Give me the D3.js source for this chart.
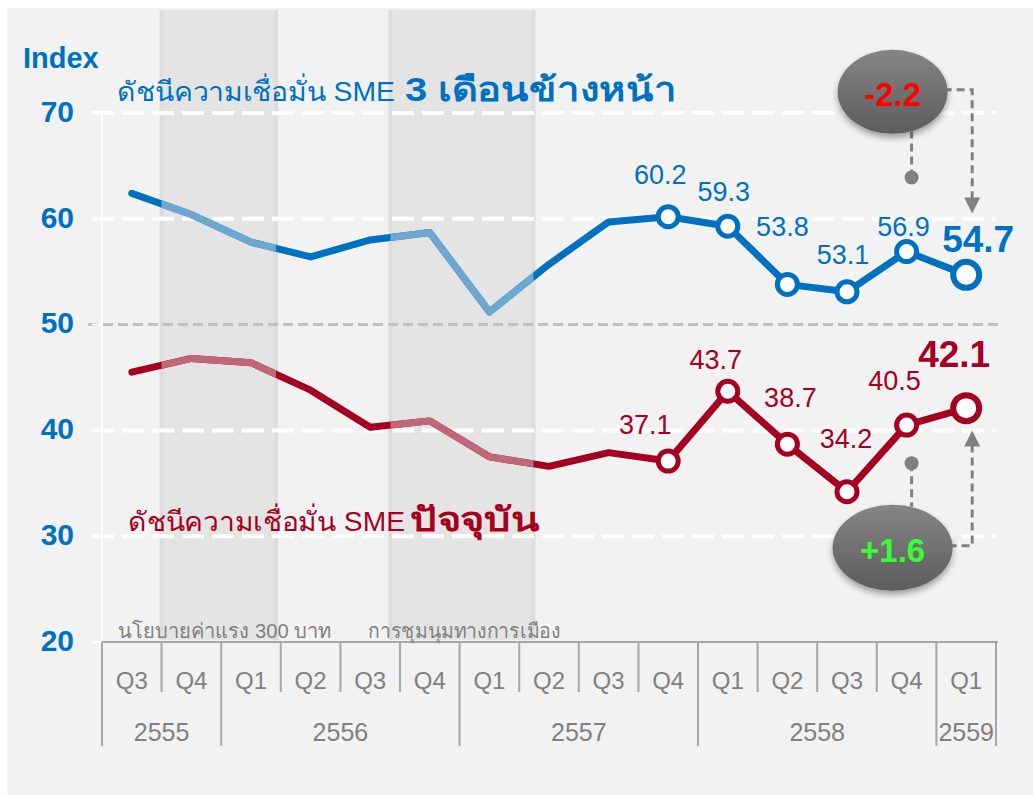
<!DOCTYPE html>
<html>
<head>
<meta charset="utf-8">
<script src="https://cdn.jsdelivr.net/npm/d3@7"></script>
<style>
  body { margin: 0; background: #fff; }
  svg { display: block; }
  text { font-family: "Liberation Sans", Arial, "Noto Sans", sans-serif; }
</style>
</head>
<body>
<div id="chart"></div>
<script>
// data
const quarters = ["Q3", "Q4", "Q1", "Q2", "Q3", "Q4", "Q1", "Q2", "Q3", "Q4", "Q1", "Q2", "Q3", "Q4", "Q1"]
const years = ["2555", "2556", "2557", "2558", "2559"]
const quartersPerYear = [2, 4, 4, 4, 1]
const outlook = [62.4, 60.4, 57.8, 56.4, 58.0, 58.7, 51.2, 55.7, 59.7, 60.2, 59.3, 53.8, 53.1, 56.9, 54.7] // 3 เดือนข้างหน้า
const current = [45.5, 46.8, 46.4, 43.8, 40.3, 40.9, 37.5, 36.6, 37.9, 37.1, 43.7, 38.7, 34.2, 40.5, 42.1] // ปัจจุบัน
const yTicks = [20, 30, 40, 50, 60, 70]
const events = ["นโยบายค่าแรง 300 บาท", "การชุมนุมทางการเมือง"]
const eventFrom = [1.0, 4.84] // in quarter units
const eventTo = [2.92, 7.24]
const firstLabelled = 9
const changeOutlook = "-2.2"
const changeCurrent = "+1.6"

const W = 1033
const H = 795
const blue = "#0070C0"
const red = "#A50021"
const grey = "#808080"

const svg = d3
  .select("#chart")
  .append("svg")
  .attr("width", W)
  .attr("height", H)

const defs = svg.append("defs")

// chart background
svg.append("rect").attr("x", 7).attr("y", 8).attr("width", W - 7).attr("height", H - 8).attr("fill", "#F2F2F2")

// scales
const x = d3.scaleBand().domain(d3.range(quarters.length)).range([102, 996])
const bw = x.bandwidth()
const xc = (i) => x(i) + bw / 2
const xq = (q) => 102 + q * bw // fractional quarter -> px
const y = d3.scaleLinear().domain([20, 70]).range([642, 113])

// shaded periods
const clip = defs.append("clipPath").attr("id", "shade")
events.forEach((name, k) => {
  const x0 = xq(eventFrom[k])
  const x1 = xq(eventTo[k])
  svg.append("rect")
    .attr("x", x0).attr("y", 10).attr("width", x1 - x0).attr("height", 630)
    .attr("fill", "#E4E4E4")
  ;[x0, x1].forEach((xe) => {
    svg.append("rect")
      .attr("x", xe - 2).attr("y", 10).attr("width", 4).attr("height", 630)
      .attr("fill", "#DDDDDD")
  })
  clip.append("rect").attr("x", x0).attr("y", 0).attr("width", x1 - x0).attr("height", H)
})

// grid lines
const g_grid = svg.append("g")
g_grid.selectAll("line")
  .data(yTicks.filter((v) => v !== 20 && v !== 50))
  .join("line")
  .attr("x1", 92).attr("x2", 996)
  .attr("y1", (d) => y(d)).attr("y2", (d) => y(d))
  .attr("stroke", "#fff").attr("stroke-width", 4).attr("stroke-dasharray", "22,8")
g_grid.append("line")
  .attr("x1", 88).attr("x2", 998).attr("y1", y(50)).attr("y2", y(50))
  .attr("stroke", "#C0C0C0").attr("stroke-width", 3).attr("stroke-dasharray", "10,5")

// left axis (white)
svg.append("line").attr("x1", 102).attr("x2", 102).attr("y1", y(70)).attr("y2", y(20))
  .attr("stroke", "#fff").attr("stroke-width", 2)
svg.selectAll(".ytick")
  .data(yTicks)
  .join("line")
  .attr("class", "ytick")
  .attr("x1", 92).attr("x2", 102).attr("y1", (d) => y(d)).attr("y2", (d) => y(d))
  .attr("stroke", "#fff").attr("stroke-width", 2)
svg.selectAll(".ylab")
  .data(yTicks)
  .join("text")
  .attr("class", "ylab")
  .attr("x", 74).attr("y", (d) => y(d) - 2).attr("dy", "0.36em")
  .attr("text-anchor", "end")
  .attr("font-size", 30).attr("font-weight", "bold").attr("fill", blue)
  .text((d) => d)

svg.append("text").attr("x", 23).attr("y", 68)
  .attr("font-size", 29).attr("font-weight", "bold").attr("fill", blue).text("Index")

// series titles
const title = (txt, xPos, yPos, len, size, bold, color) =>
  svg.append("text").attr("x", xPos).attr("y", yPos)
    .attr("font-size", size).attr("font-weight", bold ? "bold" : "normal").attr("fill", color)
    .attr("textLength", len).attr("lengthAdjust", "spacingAndGlyphs")
    .text(txt)
title("ดัชนีความเชื่อมั่น SME", 117, 101, 278, 27, false, blue)
title("3 เดือนข้างหน้า", 405, 101, 272, 33, true, blue)
title("ดัชนีความเชื่อมั่น SME", 128, 531, 277, 27, false, red)
title("ปัจจุบัน", 410, 531, 130, 33, true, red)

// lines
const line = d3.line().x((d, i) => xc(i)).y((d) => y(d))
const series = [
  { values: outlook, color: blue, light: "#6CA8CF", lab: [[-8, -42], [-4, -35], [-5, -58], [-4, -38], [-3, -25], [12, -36]] },
  { values: current, color: red, light: "#C06878", lab: [[-23, -37], [-12, -32], [3, -47], [-1, -53], [-12, -45], [-12, -55]] },
]

series.forEach((s) => {
  svg.append("path").attr("d", line(s.values))
    .attr("fill", "none").attr("stroke", s.color).attr("stroke-width", 7)
    .attr("stroke-linecap", "round").attr("stroke-linejoin", "round")
  svg.append("path").attr("d", line(s.values)).attr("clip-path", "url(#shade)")
    .attr("fill", "none").attr("stroke", s.light).attr("stroke-width", 7)
    .attr("stroke-linecap", "round").attr("stroke-linejoin", "round")

  const last = s.values.length - 1
  const pts = s.values.map((v, i) => ({ v, i })).filter((d) => d.i >= firstLabelled)
  svg.selectAll(null)
    .data(pts)
    .join("circle")
    .attr("cx", (d) => xc(d.i)).attr("cy", (d) => y(d.v))
    .attr("r", (d) => (d.i === last ? 13 : 10))
    .attr("fill", "#fff").attr("stroke", s.color)
    .attr("stroke-width", (d) => (d.i === last ? 6 : 5))
  svg.selectAll(null)
    .data(pts)
    .join("text")
    .attr("x", (d) => xc(d.i) + s.lab[d.i - firstLabelled][0])
    .attr("y", (d) => y(d.v) + s.lab[d.i - firstLabelled][1])
    .attr("dy", "0.36em").attr("text-anchor", "middle").attr("fill", s.color)
    .attr("font-size", (d) => (d.i === last ? 37 : 27))
    .attr("font-weight", (d) => (d.i === last ? "bold" : "normal"))
    .text((d) => d.v.toFixed(1))
})

// category axis
const axisTop = y(20)
const g_axis = svg.append("g").attr("stroke", "#A6A6A6").attr("stroke-width", 2)
g_axis.append("line").attr("x1", 102).attr("x2", 998).attr("y1", axisTop).attr("y2", axisTop)
const yearEdges = [0]
quartersPerYear.forEach((n) => yearEdges.push(yearEdges[yearEdges.length - 1] + n))
g_axis.selectAll(".qsep")
  .data(d3.range(quarters.length + 1))
  .join("line")
  .attr("x1", (d) => xq(d)).attr("x2", (d) => xq(d))
  .attr("y1", axisTop).attr("y2", (d) => (yearEdges.includes(d) ? 746 : 692))

svg.selectAll(".qlab")
  .data(quarters)
  .join("text")
  .attr("class", "qlab")
  .attr("x", (d, i) => xc(i)).attr("y", 689)
  .attr("text-anchor", "middle").attr("font-size", 24).attr("fill", grey)
  .text((d) => d)
svg.selectAll(".ylab2")
  .data(years)
  .join("text")
  .attr("class", "ylab2")
  .attr("x", (d, i) => (xq(yearEdges[i]) + xq(yearEdges[i + 1])) / 2).attr("y", 741)
  .attr("text-anchor", "middle").attr("font-size", 25).attr("fill", grey)
  .text((d) => d)

// event captions
svg.selectAll(".ev")
  .data(events)
  .join("text")
  .attr("class", "ev")
  .attr("x", (d, i) => xq(eventFrom[i]) - [44, 22][i]).attr("y", 638)
  .attr("font-size", 20).attr("fill", grey)
  .attr("textLength", (d, i) => [214, 192][i]).attr("lengthAdjust", "spacingAndGlyphs")
  .text((d) => d)

// change bubbles
const grad = defs.append("linearGradient").attr("id", "bub").attr("x1", 0).attr("y1", 0).attr("x2", 0).attr("y2", 1)
grad.append("stop").attr("offset", "0%").attr("stop-color", "#858585")
grad.append("stop").attr("offset", "100%").attr("stop-color", "#5C5C5C")
const shadow = defs.append("filter").attr("id", "sh").attr("x", "-30%").attr("y", "-30%").attr("width", "160%").attr("height", "170%")
shadow.append("feDropShadow").attr("dx", 0).attr("dy", 4).attr("stdDeviation", 3).attr("flood-opacity", 0.35)

const connX = xc(quarters.length - 1) + 6
const dotX = xc(quarters.length - 2) + 5
const bubX = xc(quarters.length - 2) - 14
const bubbles = [
  { text: changeOutlook, color: "#FF0000", cy: y(72), rx: 55, ry: 42, dot: y(63.9), tip: y(60.5), up: false },
  { text: changeCurrent, color: "#33FF33", cy: y(28.9), rx: 60, ry: 43, dot: y(36.9), tip: y(40.0), up: true },
]
const dash = { stroke: "#808080", "stroke-width": 3, "stroke-dasharray": "8,5", fill: "none" }
bubbles.forEach((b) => {
  const edge = b.up ? b.cy - b.ry + 2 : b.cy + b.ry - 2
  const p1 = svg.append("path")
    .attr("d", `M${bubX + b.rx - 4},${b.cy - 2}H${connX}V${b.up ? b.tip + 15 : b.tip - 15}`)
  const p2 = svg.append("path").attr("d", `M${dotX},${b.dot}V${edge}`)
  ;[p1, p2].forEach((p) => Object.entries(dash).forEach(([k, v]) => p.attr(k, v)))
  svg.append("path")
    .attr("d", b.up
      ? `M${connX},${b.tip}L${connX - 8},${b.tip + 16}H${connX + 8}Z`
      : `M${connX},${b.tip}L${connX - 8},${b.tip - 16}H${connX + 8}Z`)
    .attr("fill", "#808080")
  svg.append("circle").attr("cx", dotX).attr("cy", b.dot).attr("r", 7).attr("fill", "#808080")
  svg.append("ellipse").attr("cx", bubX).attr("cy", b.cy).attr("rx", b.rx).attr("ry", b.ry)
    .attr("fill", "url(#bub)").attr("filter", "url(#sh)")
  svg.append("text").attr("x", bubX).attr("y", b.cy + 2).attr("dy", "0.36em")
    .attr("text-anchor", "middle").attr("font-size", 33).attr("font-weight", "bold")
    .attr("fill", b.color).text(b.text)
})
</script>
</body>
</html>
